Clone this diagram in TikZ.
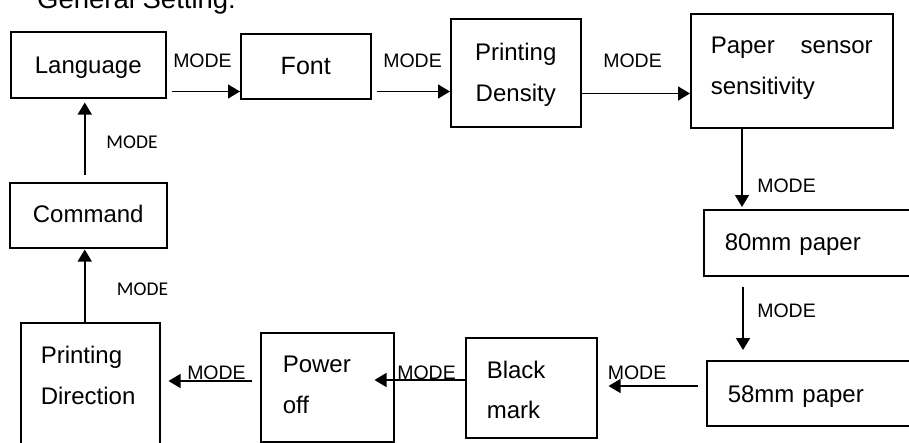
\documentclass[tikz,border=0pt]{standalone}
\usepackage{fontspec}
\setmainfont{Liberation Sans}
\newfontfamily\calibrifont{Carlito}
\usetikzlibrary{arrows.meta}

\begin{document}
\begin{tikzpicture}[x=1pt,y=-1pt,
    box/.style={draw, line width=1.5pt, inner ysep=0pt, anchor=north west,
        font=\fontsize{24}{41}\selectfont},
    modelabel/.style={anchor=base, inner sep=0pt, font=\fontsize{19.5}{22}\selectfont},
    smallmode/.style={anchor=base, inner sep=0pt, font=\calibrifont\fontsize{19.5}{22}\selectfont},
    arr/.style={line width=1.5pt, -{Triangle[length=12pt,width=14pt]}}]

    \useasboundingbox (0,0) rectangle (909,442);

    \node[anchor=base west, inner sep=0pt, font=\fontsize{27.5}{30}\selectfont]
        (title) at (37,8.5) {General Setting:};

    % top row
    \node[box, inner xsep=0pt, minimum width=155pt, text height=41.5pt, text depth=24.5pt]
        (lang) at (10,31) {Language};
    \node[box, inner xsep=0pt, minimum width=130pt, text height=41pt, text depth=24pt,
        font=\fontsize{25}{41}\selectfont] (font) at (240,33) {Font};
    \node[box, inner xsep=0pt, text width=130pt, align=center, text height=42pt, text depth=66pt]
        (dens) at (450,18) {Printing\\Density};
    \node[box, inner xsep=20pt, text width=162pt, align=left, text height=40pt, text depth=74pt]
        (sens) at (690,13) {Paper\hfill sensor\\sensitivity};

    % right column
    \node[box, inner xsep=21pt, text width=167pt, align=left, text height=41pt, text depth=25pt]
        (p80) at (703,209) {80mm paper};
    \node[box, inner xsep=21pt, text width=164pt, align=left, text height=41.5pt, text depth=23.5pt]
        (p58) at (706,360) {58mm paper};

    % bottom row
    \node[box, inner xsep=21pt, text width=89pt, align=left, text height=41pt, text depth=59pt,
        font=\fontsize{24}{40}\selectfont] (black) at (465,337) {Black\\mark};
    \node[box, inner xsep=22pt, text width=89pt, align=left, text height=39.7pt, text depth=69.3pt]
        (power) at (260,332) {Power\\off};
    \node[box, inner xsep=20pt, text width=99pt, align=left, text height=40.7pt, text depth=89.3pt]
        (pdir) at (20,322) {Printing\\Direction};

    % left column
    \node[box, inner xsep=0pt, minimum width=157pt, text height=39.7pt, text depth=25.3pt]
        (cmd) at (9,182) {Command};

    % labels
    \foreach \n/\x/\y in {m1/202.5/67, m2/412.5/67, m3/632.5/67, m4/786.5/192,
                          m5/786.5/317, m6/637/379}
        \node[modelabel] (\n) at (\x,\y) {MODE};
    \node[modelabel] (m7) at (426.5,379) {\underline{MODE}};
    \node[modelabel] (m8) at (216.5,379) {\underline{MODE}};
    \node[smallmode] (m9) at (142.5,295) {MODE};
    \node[smallmode] (m10) at (132,148.5) {MODE};

    % arrows
    \draw[arr] ([xshift=5pt,yshift=7pt]lang.south east) -- ([yshift=8pt]font.south west);
    \draw[arr] ([xshift=5pt,yshift=8pt]font.south east) -- ([yshift=36pt]dens.south west);
    \draw[arr] ([yshift=34pt]dens.south east) -- ([yshift=35pt]sens.south west);
    \draw[arr] ([xshift=52pt]sens.south west) -- ([xshift=39pt,yshift=2pt]p80.north west);
    \draw[arr] ([xshift=40pt,yshift=-10pt]p80.south west) -- ([xshift=37pt,yshift=10pt]p58.north west);
    \draw[arr] ([xshift=-8pt,yshift=-26pt]p58.north west) -- ([xshift=11pt,yshift=-49pt]black.north east);
    \draw[arr] ([yshift=-43pt]black.north west) -- ([xshift=-20pt,yshift=-48pt]power.north east);
    \draw[arr] ([xshift=-8pt,yshift=-49pt]power.north west) -- ([xshift=8pt,yshift=-59pt]pdir.north east);
    \draw[arr] ([xshift=-5.5pt]pdir.north) -- ([xshift=-3.5pt,yshift=-1pt]cmd.south);
    \draw[arr] ([xshift=-3.5pt,yshift=7pt]cmd.north) -- ([xshift=-3.5pt,yshift=-4pt]lang.south);
\end{tikzpicture}
\end{document}
